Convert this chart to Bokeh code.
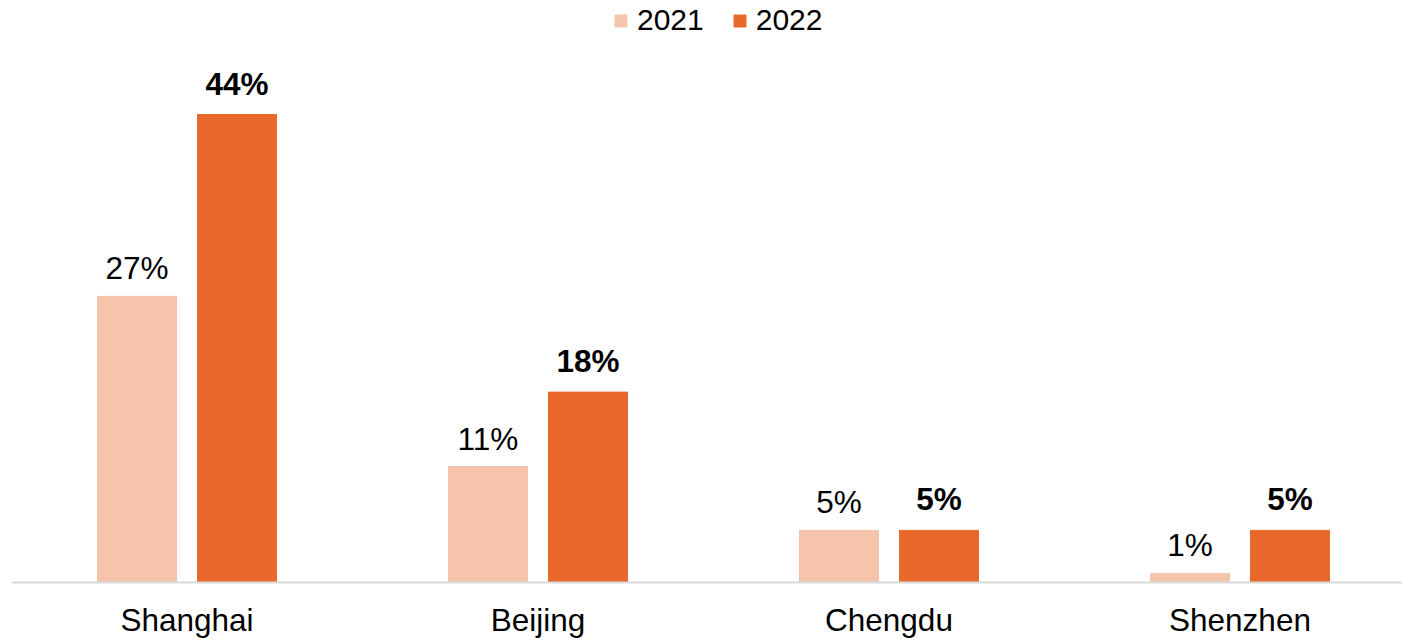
from bokeh.plotting import figure
from bokeh.models import ColumnDataSource, Range1d, FixedTicker, Legend, LegendItem
from bokeh.embed import file_html
from bokeh.resources import INLINE

cities = ["Shanghai", "Beijing", "Chengdu", "Shenzhen"]
v2021 = [26.9, 10.9, 4.9, 0.85]
v2022 = [44.0, 17.9, 4.9, 4.9]
lab2021 = ["27%", "11%", "5%", "1%"]
lab2022 = ["44%", "18%", "5%", "5%"]

C21 = "#F6C3AB"
C22 = "#E9682C"
FONT = "Liberation Sans"

pos = [i + 0.5 for i in range(len(cities))]
off = 0.1425
bw = 0.225

s21 = ColumnDataSource(dict(x=[p - off for p in pos], top=v2021, lab=lab2021))
s22 = ColumnDataSource(dict(x=[p + off for p in pos], top=v2022, lab=lab2022))

p = figure(width=1402, height=640, output_backend="svg", toolbar_location=None,
           x_range=Range1d(0, 3.963), y_range=Range1d(0, 54.72),
           y_axis_location=None, min_border_left=11, min_border_right=0,
           min_border_top=0, min_border_bottom=58)
p.outline_line_color = None
p.grid.visible = False

r1 = p.vbar(x="x", top="top", width=bw, source=s21, color=C21)
r2 = p.vbar(x="x", top="top", width=bw, source=s22, color=C22)

p.text(x="x", y="top", text="lab", source=s21, text_align="center", text_baseline="bottom",
       y_offset=-10, text_font_size="31.5px", text_font={"value": FONT}, text_color="#000000")
p.text(x="x", y="top", text="lab", source=s22, text_align="center", text_baseline="bottom",
       y_offset=-13, text_font_size="31.5px", text_font={"value": FONT}, text_font_style="bold",
       text_color="#000000")

ax = p.xaxis[0]
ax.ticker = FixedTicker(ticks=pos)
ax.major_label_overrides = {p_: c for p_, c in zip(pos, cities)}
ax.major_tick_line_color = None
ax.minor_tick_line_color = None
ax.axis_line_color = "#D9D9D9"
ax.axis_line_width = 2
ax.major_label_text_font_size = "31.5px"
ax.major_label_text_font = FONT
ax.major_label_text_color = "#000000"
ax.major_label_standoff = 13

legend = Legend(items=[LegendItem(label="2021", renderers=[r1]),
                       LegendItem(label="2022", renderers=[r2])],
                orientation="horizontal", location=(602, 545))
legend.border_line_color = None
legend.background_fill_alpha = 0
legend.label_text_font_size = "30px"
legend.label_text_font = FONT
legend.label_text_color = "#000000"
legend.glyph_width = 15
legend.glyph_height = 15
legend.spacing = 28
legend.padding = 0
legend.margin = 0
legend.label_standoff = 9
p.add_layout(legend, "center")

open("out.html", "w").write(file_html(p, INLINE))
